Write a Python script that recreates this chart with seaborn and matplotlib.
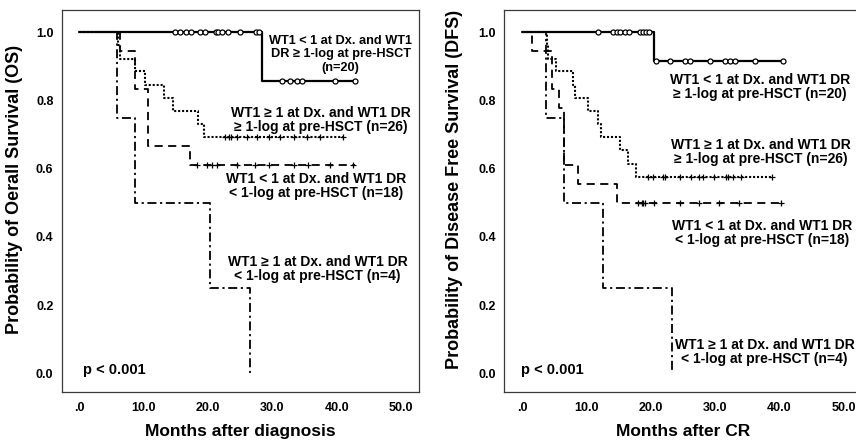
import numpy as np
import matplotlib
matplotlib.use("Agg")
import matplotlib.pyplot as plt
import seaborn as sns

# ---------------- data ----------------
# Overall survival (months after diagnosis)
os_a_t = [0, 28.4, 42.9]
os_a_s = [1.0, 0.857, 0.857]
os_a_cens = [14.9, 15.7, 16.6, 17.4, 18.8, 19.6, 21.2, 21.6, 22.2, 23.1, 25.0, 27.4, 28.0,
             31.5, 32.8, 33.8, 34.6, 39.8, 42.9]

os_b_t = [0, 6.0, 6.3, 8.7, 10.2, 13.2, 14.6, 18.5, 19.3, 41.0]
os_b_s = [1.0, 0.962, 0.923, 0.885, 0.846, 0.808, 0.769, 0.731, 0.692, 0.692]
os_b_cens = [22.7, 23.2, 23.5, 24.5, 26.0, 27.6, 29.4, 31.2, 33.3, 35.4, 37.4, 41.0]

os_c_t = [0, 6.3, 8.7, 10.7, 17.2, 42.9]
os_c_s = [1.0, 0.944, 0.833, 0.667, 0.611, 0.611]
os_c_cens = [18.3, 19.8, 20.6, 21.4, 24.5, 27.3, 29.4, 33.3, 35.6, 39.0, 42.6]

os_d_t = [0, 5.9, 8.7, 20.3, 26.5]
os_d_s = [1.0, 0.75, 0.5, 0.25, 0.0]

# Disease free survival (months after CR)
dfs_a_t = [0, 20.5, 40.6]
dfs_a_s = [1.0, 0.917, 0.917]
dfs_a_cens = [11.8, 14.2, 14.7, 15.2, 16.0, 16.7, 18.3, 18.8, 19.3, 19.8,
              20.9, 23.0, 25.3, 26.1, 29.2, 31.5, 32.3, 33.1, 36.2, 40.6]

dfs_b_t = [0, 3.9, 4.0, 5.3, 7.9, 8.3, 10.3, 11.8, 12.3, 15.2, 16.5, 17.8, 38.8]
dfs_b_s = [1.0, 0.962, 0.923, 0.885, 0.846, 0.808, 0.769, 0.731, 0.692, 0.654, 0.615, 0.577, 0.577]
dfs_b_cens = [19.6, 20.4, 21.9, 22.2, 24.5, 26.3, 27.6, 28.1, 29.9, 31.8, 32.0, 32.8, 34.1, 38.8]

dfs_c_t = [0, 1.6, 4.7, 5.8, 6.6, 8.7, 14.7, 40.5]
dfs_c_s = [1.0, 0.944, 0.833, 0.778, 0.611, 0.556, 0.5, 0.5]
dfs_c_cens = [18.0, 18.6, 18.8, 19.1, 20.6, 24.5, 27.6, 30.7, 33.8, 40.3]

dfs_d_t = [0, 3.8, 6.5, 12.6, 23.3]
dfs_d_s = [1.0, 0.75, 0.5, 0.25, 0.0]

x_ticks = [0, 10, 20, 30, 40, 50]
x_tick_labels = [".0", "10.0", "20.0", "30.0", "40.0", "50.0"]
y_ticks = [0.0, 0.2, 0.4, 0.6, 0.8, 1.0]
y_tick_labels = ["0.0", "0.2", "0.4", "0.6", "0.8", "1.0"]

os_labels = ["WT1 < 1 at Dx. and WT1\nDR \u2265 1-log at pre-HSCT\n(n=20)",
             "WT1 \u2265 1 at Dx. and WT1 DR\n\u2265 1-log at pre-HSCT (n=26)",
             "WT1 < 1 at Dx. and WT1 DR\n< 1-log at pre-HSCT (n=18)",
             "WT1 \u2265 1 at Dx. and WT1 DR\n< 1-log at pre-HSCT (n=4)"]
dfs_labels = ["WT1 < 1 at Dx. and WT1 DR\n\u2265 1-log at pre-HSCT (n=20)",
              "WT1 \u2265 1 at Dx. and WT1 DR\n\u2265 1-log at pre-HSCT (n=26)",
              "WT1 < 1 at Dx. and WT1 DR\n< 1-log at pre-HSCT (n=18)",
              "WT1 \u2265 1 at Dx. and WT1 DR\n< 1-log at pre-HSCT (n=4)"]
p_text = "p < 0.001"

# ---------------- style ----------------
sns.set_theme(style="white")
plt.rcParams["font.family"] = ["Liberation Sans", "DejaVu Sans"]
plt.rcParams["font.weight"] = "bold"
plt.rcParams["text.color"] = "black"
plt.rcParams["axes.labelcolor"] = "black"
plt.rcParams["xtick.color"] = "black"
plt.rcParams["ytick.color"] = "black"

SPINE = "#3a3a3a"
STYLES = {
    "a": dict(linestyle="-", linewidth=1.6),
    "b": dict(linestyle=(0, (1.0, 0.9)), linewidth=1.5),
    "c": dict(linestyle=(0, (4.5, 3.0)), linewidth=1.3),
    "d": dict(linestyle=(0, (5.0, 2.0, 1.2, 2.0)), linewidth=1.3),
}


def level_at(t, s, c):
    t = np.asarray(t)
    s = np.asarray(s)
    idx = np.searchsorted(t, np.asarray(c), side="right") - 1
    return s[idx]


def draw_curve(ax, t, s, key, cens=None, marker=None):
    sns.lineplot(x=t, y=s, ax=ax, color="black", drawstyle="steps-post",
                 estimator=None, sort=False, **STYLES[key])
    if cens is not None:
        lv = level_at(t, s, cens)
        if marker == "o":
            ax.plot(cens, lv, ls="none", marker="o", ms=3.6, mfc="white",
                    mec="black", mew=0.9, zorder=4)
        else:
            ax.plot(cens, lv, ls="none", marker="+", ms=4.5, color="black",
                    mew=0.9, zorder=4)


def style_axes(ax, xlabel, ylabel, ylab_x):
    ax.set_xlim(-2.75, 52.8)
    ax.set_ylim(-0.055, 1.065)
    ax.set_xticks(x_ticks)
    ax.set_xticklabels(x_tick_labels, fontsize=9, fontweight="bold", color="black")
    ax.set_yticks(y_ticks)
    ax.set_yticklabels(y_tick_labels, fontsize=9, fontweight="bold", color="black")
    ax.tick_params(axis="both", direction="out", length=3.5, width=0.8,
                   color=SPINE, pad=2.5)
    ax.tick_params(axis="x", pad=4)
    for sp in ax.spines.values():
        sp.set_color(SPINE)
        sp.set_linewidth(0.9)
        sp.set_visible(True)
    ax.set_xlabel(xlabel, fontsize=12.5, fontweight="bold", labelpad=7, color="black")
    ax.set_ylabel(ylabel, fontsize=13, fontweight="bold", color="black")
    ax.yaxis.set_label_coords(ylab_x, 0.53)
    ax.grid(False)
    ax.set_facecolor("white")


fig = plt.figure(figsize=(8.56, 4.40), dpi=100)
fig.patch.set_facecolor("white")
ax1 = fig.add_axes([0.0721, 0.109, 0.4174, 0.868])
ax2 = fig.add_axes([0.5891, 0.109, 0.4174, 0.868])

# left: OS
draw_curve(ax1, os_a_t, os_a_s, "a", os_a_cens, "o")
draw_curve(ax1, os_b_t, os_b_s, "b", os_b_cens, "+")
draw_curve(ax1, os_c_t, os_c_s, "c", os_c_cens, "+")
draw_curve(ax1, os_d_t, os_d_s, "d")

# right: DFS
draw_curve(ax2, dfs_a_t, dfs_a_s, "a", dfs_a_cens, "o")
draw_curve(ax2, dfs_b_t, dfs_b_s, "b", dfs_b_cens, "+")
draw_curve(ax2, dfs_c_t, dfs_c_s, "c", dfs_c_cens, "+")
draw_curve(ax2, dfs_d_t, dfs_d_s, "d")

style_axes(ax1, "Months after diagnosis", "Probability of Oerall Survival (OS)", -0.108)
style_axes(ax2, "Months after CR", "Probability of Disease Free Survival (DFS)", -0.116)

TXT = dict(fontweight="bold", ha="center", va="center", color="black")
os_pos = [(40.6, 0.935), (37.6, 0.744), (36.8, 0.550), (37.0, 0.305)]
os_sizes = [9.2, 10, 10, 10]
os_spacing = [1.2, 1.0, 1.0, 1.0]
for lab, (x, y), fs, ls in zip(os_labels, os_pos, os_sizes, os_spacing):
    ax1.text(x, y, lab, fontsize=fs, linespacing=ls, **TXT)
dfs_pos = [(37.0, 0.841), (37.1, 0.648), (37.4, 0.411), (37.7, 0.062)]
for lab, (x, y) in zip(dfs_labels, dfs_pos):
    ax2.text(x, y, lab, fontsize=10, linespacing=1.0, **TXT)

ax1.text(0.5, 0.01, p_text, fontsize=10.5, fontweight="bold", ha="left",
         va="center", color="black")
ax2.text(-0.1, 0.01, p_text, fontsize=10.5, fontweight="bold", ha="left",
         va="center", color="black")

fig.savefig("out.png", dpi=100, facecolor="white")
